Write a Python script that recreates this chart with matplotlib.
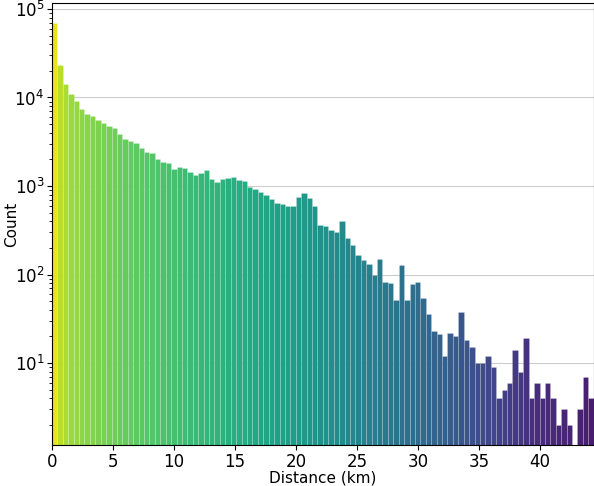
import numpy as np
import matplotlib
matplotlib.use("Agg")
import matplotlib.pyplot as plt
from matplotlib import cm

counts = [69000, 23100, 14100, 10900, 9100, 7400, 6500, 6150, 5540, 5160,
          4770, 4520, 3870, 3400, 3200, 3060, 2690, 2420, 2360, 2020,
          1870, 1820, 1560, 1620, 1585, 1440, 1340, 1400, 1530, 1200,
          1110, 1210, 1240, 1250, 1160, 1130, 966, 930, 863, 785,
          708, 638, 621, 600, 600, 745, 826, 726, 595, 366,
          357, 316, 302, 403, 261, 216, 167, 145, 133, 100,
          148, 83, 80, 51, 129, 51, 78, 82, 54, 36,
          23, 21, 12, 22, 20, 38, 18, 15, 10, 10,
          12, 9, 4, 5, 6, 14, 8, 19, 4, 6,
          4, 6, 4, 2, 3, 2, 1, 3, 7, 4]
x_max = 44.4

edges = np.linspace(0, x_max, len(counts) + 1)
width = edges[1] - edges[0]
c = np.array(counts, dtype=float)
centers = edges[:-1] + width / 2
cval = np.interp(centers, [0, 0.6, 1.5, 5, 20, 30, 40, 44.4],
                 [1.0, 0.9, 0.85, 0.78, 0.55, 0.35, 0.12, 0.08])
cols = cm.viridis(cval)

fig = plt.figure(figsize=(5.94, 4.86), dpi=100)
ax = fig.add_axes([0.0875, 0.084, 0.912, 0.91])
ax.bar(edges[:-1], c, width=width, align='edge', color=cols,
       edgecolor=(1, 1, 1, 0.3), linewidth=0.4, zorder=2)
ax.set_yscale('log')
ax.set_ylim(1.18, 1.17e5)
ax.set_xlim(0, x_max)
ax.grid(axis='y', which='major', color='#cccccc', linewidth=0.8, zorder=0)
ax.set_axisbelow(True)
ax.tick_params(labelsize=12, pad=2)
ax.set_xlabel('Distance (km)', fontsize=11, labelpad=0)
ax.set_ylabel('Count', fontsize=11, labelpad=0)
ax.yaxis.set_label_coords(-0.06, 0.5)
fig.savefig('out.png', dpi=100)
